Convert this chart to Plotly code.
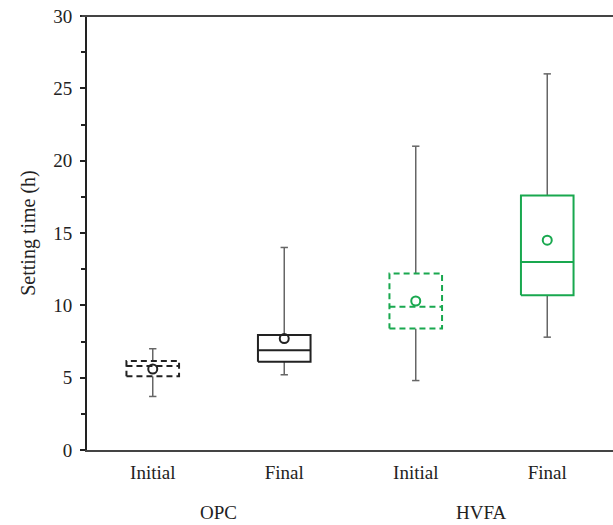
import plotly.graph_objects as go

groups = ["OPC", "OPC", "HVFA", "HVFA"]
stages = ["Initial", "Final", "Initial", "Final"]
lower = [3.7, 5.2, 4.8, 7.8]
q1 = [5.1, 6.1, 8.4, 10.7]
median = [5.8, 6.9, 9.9, 13.0]
q3 = [6.15, 7.95, 12.2, 17.6]
upper = [7.0, 14.0, 21.0, 26.0]
means = [5.6, 7.7, 10.3, 14.5]
colors = ["#222222", "#222222", "#19a84f", "#19a84f"]
dashes = ["6px,4px", "solid", "6px,4px", "solid"]
group_labels = ["OPC", "HVFA"]

whisker_color = "#666666"
hw = 0.2     # box half-width (category units)
cw = 0.028   # cap half-width

fig = go.Figure()
for i in range(len(stages)):
    # whiskers
    fig.add_trace(go.Scatter(
        x=[i, i, None, i, i, None, i - cw, i + cw, None, i - cw, i + cw],
        y=[q3[i], upper[i], None, q1[i], lower[i], None, upper[i], upper[i], None, lower[i], lower[i]],
        mode="lines", line=dict(color=whisker_color, width=1.5),
        showlegend=False, hoverinfo="skip"))
    # box outline
    fig.add_trace(go.Scatter(
        x=[i - hw, i + hw, i + hw, i - hw, i - hw],
        y=[q1[i], q1[i], q3[i], q3[i], q1[i]],
        mode="lines", line=dict(color=colors[i], width=2, dash=dashes[i]),
        fill="toself", fillcolor="white",
        showlegend=False, hoverinfo="skip"))
    # median
    fig.add_trace(go.Scatter(
        x=[i - hw, i + hw], y=[median[i], median[i]],
        mode="lines", line=dict(color=colors[i], width=2, dash=dashes[i]),
        showlegend=False, hoverinfo="skip"))
    # mean
    fig.add_trace(go.Scatter(
        x=[i], y=[means[i]], mode="markers",
        marker=dict(symbol="circle-open", size=9, color=colors[i], line=dict(width=2)),
        showlegend=False, hoverinfo="skip"))

for k, lab in enumerate(group_labels):
    fig.add_annotation(x=2 * k + 0.5, y=-0.143, xref="x", yref="paper",
                       text=lab, showarrow=False,
                       font=dict(family="Liberation Serif", size=19, color="#222"),
                       yanchor="middle")

fig.update_layout(
    width=613, height=525,
    margin=dict(l=87, r=0, t=16, b=75),
    plot_bgcolor="white", paper_bgcolor="white",
    font=dict(family="Liberation Serif", size=19, color="#222"),
    xaxis=dict(range=[-0.5, 3.5], tickvals=list(range(4)), ticktext=stages,
               showgrid=False, zeroline=False, showline=True, linecolor="#444",
               linewidth=2, ticks="", mirror=False, ticklabelstandoff=4),
    yaxis=dict(range=[0, 30], tickvals=[0, 5, 10, 15, 20, 25, 30],
               showgrid=False, zeroline=False, showline=True, linecolor="#222",
               linewidth=2, ticks="outside", ticklen=5, tickwidth=2, tickcolor="#222",
               ticklabelstandoff=4,
               minor=dict(ticks="outside", dtick=2.5, ticklen=4, tickwidth=2, tickcolor="#222"),
               title=dict(text="Setting time (h)", font=dict(size=20), standoff=12)),
)
# top border line
fig.add_shape(type="line", xref="paper", yref="paper", x0=-0.01, x1=1, y0=1, y1=1,
              line=dict(color="#444", width=2))

fig.write_html("out.html")
